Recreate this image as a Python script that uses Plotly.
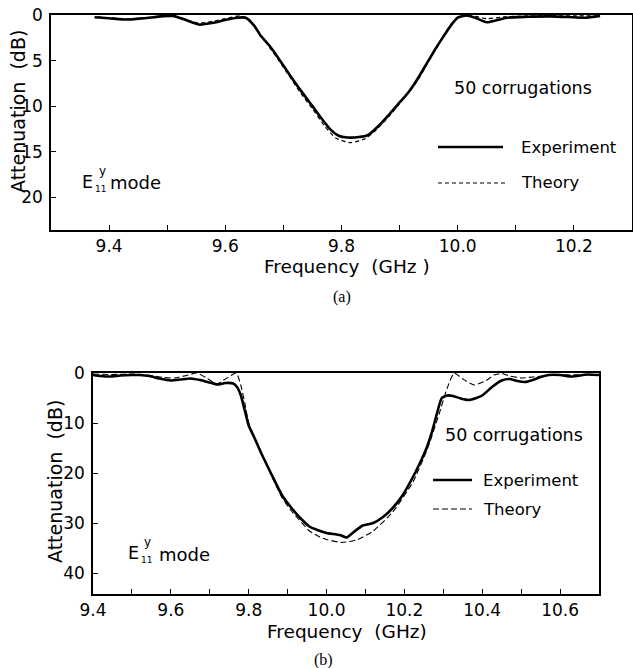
import plotly.graph_objects as go

W, H = 633, 668

# ---------------- Panel (a) data ----------------
a_freq_exp = [9.375, 9.40, 9.43, 9.46, 9.49, 9.51, 9.53, 9.555, 9.58, 9.60, 9.62, 9.635,
              9.65, 9.66, 9.675, 9.69, 9.71, 9.73, 9.75, 9.765, 9.78, 9.795, 9.81, 9.83,
              9.845, 9.865, 9.885, 9.90, 9.915, 9.93, 9.945, 9.96, 9.975, 9.99, 10.0,
              10.015, 10.03, 10.05, 10.065, 10.085, 10.12, 10.16, 10.20, 10.22, 10.245]
a_att_exp = [0.25, 0.35, 0.5, 0.35, 0.15, 0.1, 0.5, 1.05, 0.85, 0.55, 0.3, 0.3,
             1.2, 2.2, 3.3, 4.6, 6.5, 8.3, 10.0, 11.3, 12.5, 13.25, 13.45, 13.4,
             13.2, 12.1, 10.7, 9.6, 8.5, 7.1, 5.5, 3.9, 2.4, 1.0, 0.3,
             0.05, 0.3, 0.8, 0.6, 0.3, 0.2, 0.15, 0.25, 0.3, 0.1]
a_freq_th = [9.38, 9.43, 9.47, 9.51, 9.555, 9.60, 9.625, 9.64, 9.655, 9.67, 9.69, 9.71,
             9.73, 9.75, 9.77, 9.79, 9.815, 9.84, 9.86, 9.885, 9.91, 9.93, 9.95, 9.97,
             9.99, 10.005, 10.03, 10.05, 10.08, 10.12, 10.2, 10.245]
a_att_th = [0.2, 0.45, 0.3, 0.05, 0.9, 0.4, 0.1, 0.4, 1.6, 3.0, 4.8, 6.7,
            8.6, 10.3, 12.1, 13.5, 14.0, 13.6, 12.6, 10.9, 8.9, 7.3, 5.1, 2.9,
            0.9, 0.1, 0.15, 0.4, 0.2, 0.1, 0.1, 0.1]

a_xticks = [9.3, 9.4, 9.5, 9.6, 9.7, 9.8, 9.9, 10.0, 10.1, 10.2, 10.3]
a_xticklabels = ["", "9.4", "", "9.6", "", "9.8", "", "10.0", "", "10.2", ""]
a_yticks = [0, 5, 10, 15, 20]

# ---------------- Panel (b) data ----------------
b_freq_exp = [9.40, 9.42, 9.445, 9.47, 9.50, 9.52, 9.545, 9.57, 9.60, 9.625, 9.65, 9.675,
              9.70, 9.72, 9.74, 9.76, 9.77, 9.78, 9.79, 9.80, 9.815, 9.835, 9.86, 9.886,
              9.91, 9.93, 9.956, 9.98, 10.0, 10.034, 10.052, 10.07, 10.093, 10.12, 10.145,
              10.17, 10.195, 10.222, 10.24, 10.258, 10.27, 10.284, 10.296, 10.31, 10.325,
              10.345, 10.365, 10.385, 10.40, 10.425, 10.45, 10.47, 10.49, 10.51, 10.53,
              10.55, 10.57, 10.60, 10.63, 10.67, 10.70]
b_att_exp = [0.4, 0.6, 0.7, 0.5, 0.4, 0.4, 0.6, 1.1, 1.5, 1.3, 1.1, 1.4,
             1.9, 2.3, 2.0, 2.1, 2.8, 4.5, 7.5, 10.5, 13.0, 16.5, 20.5, 24.5,
             27.0, 28.8, 30.7, 31.5, 32.0, 32.4, 32.9, 31.8, 30.5, 30.0, 28.8,
             27.0, 24.5, 20.8, 18.0, 14.8, 12.0, 8.0, 5.0, 4.5, 4.6,
             5.1, 5.4, 5.0, 4.5, 2.8, 1.5, 1.2, 1.6, 1.8, 1.4,
             0.8, 0.4, 0.4, 0.7, 0.3, 0.4]
b_freq_th = [9.40, 9.45, 9.50, 9.55, 9.58, 9.61, 9.64, 9.666, 9.69, 9.718, 9.74, 9.768,
             9.78, 9.79, 9.80, 9.815, 9.835, 9.86, 9.886, 9.91, 9.93, 9.956, 9.98, 10.0,
             10.04, 10.08, 10.12, 10.17, 10.222, 10.26, 10.29, 10.31, 10.328, 10.35,
             10.38, 10.41, 10.43, 10.45, 10.47, 10.50, 10.53, 10.57, 10.62, 10.70]
b_att_th = [0.2, 0.3, 0.2, 0.5, 0.9, 1.0, 0.5, 0.0, 0.9, 2.2, 1.2, 0.0,
            2.5, 6.0, 10.0, 13.0, 16.6, 20.8, 25.0, 27.6, 29.4, 31.6, 32.7, 33.3,
            33.9, 33.3, 31.6, 27.8, 21.8, 15.0, 8.0, 3.0, 0.0, 1.2,
            2.4, 1.5, 0.4, 0.1, 0.6, 1.0, 0.8, 0.5, 0.4, 0.3]

b_xticks = [9.4, 9.5, 9.6, 9.7, 9.8, 9.9, 10.0, 10.1, 10.2, 10.3, 10.4, 10.5, 10.6, 10.7]
b_xticklabels = ["9.4", "", "9.6", "", "9.8", "", "10.0", "", "10.2", "", "10.4", "", "10.6", ""]
b_yticks = [0, 10, 20, 30, 40]

FONT = "DejaVu Sans"


def px(x):
    return x / W


def py(y):
    return 1 - y / H


fig = go.Figure()
fig.add_trace(go.Scatter(x=a_freq_exp, y=a_att_exp, mode="lines", name="Experiment",
                         line=dict(color="black", width=2.6, shape="spline", smoothing=0.6),
                         xaxis="x", yaxis="y", showlegend=False))
fig.add_trace(go.Scatter(x=a_freq_th, y=a_att_th, mode="lines", name="Theory",
                         line=dict(color="black", width=1.2, dash="4px,3px", shape="spline", smoothing=0.6),
                         xaxis="x", yaxis="y", showlegend=False))
fig.add_trace(go.Scatter(x=b_freq_exp, y=b_att_exp, mode="lines", name="Experiment",
                         line=dict(color="black", width=2.6, shape="spline", smoothing=0.5),
                         xaxis="x2", yaxis="y2", showlegend=False))
fig.add_trace(go.Scatter(x=b_freq_th, y=b_att_th, mode="lines", name="Theory",
                         line=dict(color="black", width=1.1, dash="6px,3px", shape="spline", smoothing=0.5),
                         xaxis="x2", yaxis="y2", showlegend=False))

axis_common = dict(showline=True, linecolor="black", linewidth=1.5, mirror=True,
                   ticks="inside", ticklen=5, tickcolor="black", tickwidth=1.2,
                   showgrid=False, zeroline=False, automargin=False,
                   tickfont=dict(family=FONT, size=17, color="black"))

fig.update_layout(
    template="none",
    width=W, height=H,
    margin=dict(l=0, r=0, t=0, b=0, pad=0),
    paper_bgcolor="white", plot_bgcolor="white",
    font=dict(family=FONT, color="black"),
    xaxis=dict(domain=[px(51), px(632)], range=[9.3, 10.3], anchor="y",
               tickmode="array", tickvals=a_xticks, ticktext=a_xticklabels, **axis_common),
    yaxis=dict(domain=[py(230), py(15)], range=[23.6, 0], anchor="x",
               tickmode="array", tickvals=a_yticks, ticklabelstandoff=3, **axis_common),
    xaxis2=dict(domain=[px(93), px(599)], range=[9.4, 10.7], anchor="y2",
                tickmode="array", tickvals=b_xticks, ticktext=b_xticklabels, **axis_common),
    yaxis2=dict(domain=[py(594), py(373)], range=[44.2, 0], anchor="x2",
                tickmode="array", tickvals=b_yticks, ticklabelstandoff=3, **axis_common),
)


def ann(text, x, y, size=16, xanchor="center", angle=0, family=FONT):
    fig.add_annotation(text=text, x=px(x), y=py(y), xref="paper", yref="paper",
                       showarrow=False, xanchor=xanchor, yanchor="middle", textangle=angle,
                       font=dict(family=family, size=size, color="black"))


# Panel (a) texts
ann("Attenuation  (dB)", 18, 112, size=19, angle=-90)
ann("Frequency  (GHz )", 347, 266, size=18.5)
ann("(a)", 342, 297, size=16, family="Liberation Serif")
ann("50 corrugations", 452, 88, size=17.5, xanchor="left")
ann("Experiment", 519, 147, size=16.5, xanchor="left")
ann("Theory", 519, 183, size=16.5, xanchor="left")
ann("E", 87, 182, size=17.5)
ann("y", 102, 171, size=12)
ann("11", 100, 189, size=9)
ann("mode", 108, 183, size=18, xanchor="left")

# Panel (b) texts
ann("Attenuation  (dB)", 55, 482, size=19, angle=-90)
ann("Frequency  (GHz)", 347, 631, size=18.5)
ann("(b)", 323, 660, size=16, family="Liberation Serif")
ann("50 corrugations", 443, 435, size=17.5, xanchor="left")
ann("Experiment", 481, 480, size=16.5, xanchor="left")
ann("Theory", 481, 509, size=16.5, xanchor="left")
ann("E", 133, 553, size=17.5)
ann("y", 147, 542, size=12)
ann("11", 146, 560, size=9)
ann("mode", 157, 554, size=18, xanchor="left")

# Legend sample lines (decoration)
fig.add_shape(type="line", xref="paper", yref="paper", x0=px(438), x1=px(503), y0=py(147), y1=py(147),
              line=dict(color="black", width=2.6))
fig.add_shape(type="line", xref="paper", yref="paper", x0=px(438), x1=px(505), y0=py(183), y1=py(183),
              line=dict(color="black", width=1.2, dash="4px,3px"))
fig.add_shape(type="line", xref="paper", yref="paper", x0=px(433), x1=px(472), y0=py(480), y1=py(480),
              line=dict(color="black", width=2.6))
fig.add_shape(type="line", xref="paper", yref="paper", x0=px(433), x1=px(472), y0=py(509), y1=py(509),
              line=dict(color="black", width=1.1, dash="6px,3px"))

fig.write_html("out.html")
